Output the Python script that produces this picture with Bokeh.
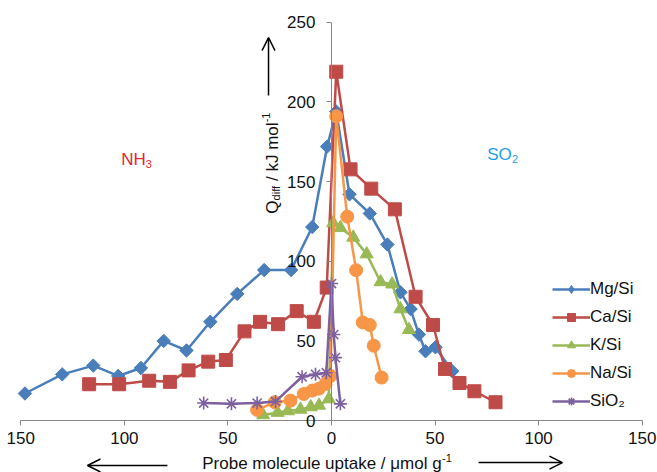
import math
from bokeh.plotting import figure
from bokeh.models import (LinearAxis, FixedTicker, Range1d, Legend, LegendItem,
                          Arrow, OpenHead, ColumnDataSource)
from bokeh.core.properties import value
from bokeh.embed import file_html
from bokeh.resources import INLINE

# ---------------- data (uptake in umol/g, Qdiff in kJ/mol) ----------------
# NH3 side is plotted to the left (negative x), SO2 side to the right.
mg_nh3_uptake = [148, 130, 115, 103, 92, 81, 70, 58.5, 45.5, 32.5, 19.5, 9.3, 2.1]
mg_nh3_q      = [17, 29, 34.5, 28, 33, 50, 44, 62, 79.5, 94.5, 94.5, 121.5, 172]
mg_so2_uptake = [2.3, 8.7, 18.5, 27, 33.3, 38.2, 42.2, 45.4, 50.2, 58.3]
mg_so2_q      = [194, 142, 130, 110.5, 80.5, 70, 54, 43.5, 46, 31]

ca_nh3_uptake = [117, 102.5, 88, 78, 69, 59.5, 51, 42, 34.5, 25.8, 16.8, 8.5, 2.3]
ca_nh3_q      = [22.8, 22.8, 25, 24.3, 31.5, 37, 38, 56, 62, 60.5, 68.7, 62, 83.5]
ca_so2_uptake = [2.3, 9.2, 19.2, 30.6, 40.6, 49, 54.8, 61.8, 69, 79.2]
ca_so2_q      = [219, 157.7, 145.6, 132.6, 77.7, 60, 32.4, 23.6, 18.4, 11.5]

k_nh3_uptake = [33, 26, 21, 15, 10, 6, 1.3]
k_nh3_q      = [3.5, 5, 6, 7, 8.5, 9.5, 13.5]
k_so2_uptake = [0.8, 4.3, 10.5, 17, 23.7, 29.3, 33.3, 37.4]
k_so2_q      = [124, 121, 115, 104.5, 87, 85.6, 70, 57]

na_nh3_uptake = [35.9, 27.4, 19.8, 13.4, 9.3, 6.1, 2.9, 0.5]
na_nh3_q      = [6.7, 11.5, 12.5, 16.7, 18.8, 20, 23, 28]
na_so2_uptake = [2.3, 7.6, 11.9, 15.1, 18.5, 20.4, 24.2]
na_so2_q      = [191, 128, 94.4, 61.6, 60, 47, 27]

si_nh3_uptake = [61.7, 48.3, 35.9, 27, 14.2, 7.7, 2.5]
si_nh3_q      = [11, 10.5, 11, 12, 27.5, 29, 30]
si_so2_uptake = [0.0, 1.1, 1.9, 4.3]
si_so2_q      = [86, 54, 39.5, 10.5]

series_names = ["Mg/Si", "Ca/Si", "K/Si", "Na/Si", "SiO\u2082"]
x_ticks = [-150, -100, -50, 0, 50, 100, 150]
x_tick_labels = ["150", "100", "50", "0", "50", "100", "150"]
y_ticks = [0, 50, 100, 150, 200, 250]

# ---------------- styles ----------------
colors = ["#4A7EBB", "#BE4B48", "#98B954", "#F79646", "#7D60A0"]
markers = ["square", "square", "triangle", "circle", "asterisk"]
sizes = [9.5, 13, 13, 13, 13]
angles = [math.pi / 4, 0, 0, 0, 0]
legend_markers = ["diamond", "square", "triangle", "circle", "asterisk"]
FONT = value("Liberation Sans")

p = figure(width=657, height=472,
           x_range=Range1d(-159.8, 157.4), y_range=Range1d(-32.6, 263.7),
           output_backend="svg", toolbar_location=None,
           x_axis_location=None, y_axis_location=None,
           min_border=0, outline_line_color=None)
p.grid.visible = False
p.background_fill_color = "white"
p.border_fill_color = "white"

yax = LinearAxis(fixed_location=0, bounds=(0, 250), ticker=FixedTicker(ticks=y_ticks),
                 major_tick_out=5, major_tick_in=0, minor_tick_out=0, minor_tick_in=0,
                 axis_line_color="#868686", major_tick_line_color="#868686",
                 major_label_text_font="Liberation Sans", major_label_text_font_size="17px",
                 major_label_text_color="#111111", major_label_standoff=11)
p.add_layout(yax, "left")

xax = LinearAxis(fixed_location=0, bounds=(-150, 150), ticker=FixedTicker(ticks=x_ticks),
                 major_label_overrides={t: l for t, l in zip(x_ticks, x_tick_labels)},
                 major_tick_out=5, major_tick_in=0, minor_tick_out=0, minor_tick_in=0,
                 axis_line_color="#868686", major_tick_line_color="#868686",
                 major_label_text_font="Liberation Sans", major_label_text_font_size="17px",
                 major_label_text_color="#111111", major_label_standoff=6)
p.add_layout(xax, "below")

all_series = [
    (mg_nh3_uptake, mg_nh3_q, mg_so2_uptake, mg_so2_q),
    (ca_nh3_uptake, ca_nh3_q, ca_so2_uptake, ca_so2_q),
    (k_nh3_uptake, k_nh3_q, k_so2_uptake, k_so2_q),
    (na_nh3_uptake, na_nh3_q, na_so2_uptake, na_so2_q),
    (si_nh3_uptake, si_nh3_q, si_so2_uptake, si_so2_q),
]

items = []
for i, (nu, nq, su, sq) in enumerate(all_series):
    xs = [-u for u in nu] + list(su)
    ys = list(nq) + list(sq)
    src = ColumnDataSource(dict(x=xs, y=ys))
    ln = p.line("x", "y", source=src, line_color=colors[i], line_width=2.5)
    if markers[i] == "asterisk":
        sc = p.scatter("x", "y", source=src, marker="asterisk", size=sizes[i],
                       line_color=colors[i], line_width=1.6)
    else:
        sc = p.scatter("x", "y", source=src, marker=markers[i], size=sizes[i],
                       angle=angles[i], fill_color=colors[i], line_color=colors[i])
    if legend_markers[i] != markers[i]:
        # marker shape used only for the legend swatch
        lg = p.scatter("x", "y", source=src, marker=legend_markers[i], size=13,
                       fill_color=colors[i], line_color=colors[i], visible=False)
        rends = [ln, lg]
    else:
        rends = [ln, sc]
    items.append(LegendItem(label=series_names[i], renderers=rends))

legend = Legend(items=items, location=(552, 61), padding=0, margin=0,
                spacing=8, glyph_width=38, glyph_height=20, label_height=20,
                label_standoff=0, border_line_color=None, background_fill_alpha=0,
                label_text_font="Liberation Sans", label_text_font_size="17px",
                label_text_color="#111111", click_policy="none")
p.add_layout(legend, "center")

# ---------------- annotations ----------------
def txt(x, y, s, size, color="#111111", angle=0.0, align="left"):
    p.text(x=[x], y=[y], text=[s], angle=angle, text_font=FONT,
           text_font_size=size, text_color=color, text_align=align,
           text_baseline="middle")

# y-axis title (rotated)
txt(-28.5, 129.9, "Q", "17px", angle=math.pi / 2)
txt(-26.6, 138.2, "diff", "11px", angle=math.pi / 2)
txt(-28.5, 150.4, "/ kJ mol", "17px", angle=math.pi / 2)
txt(-31.6, 187.2, "-1", "11px", angle=math.pi / 2)
p.add_layout(Arrow(end=OpenHead(size=13, line_width=1.5, line_color="black"),
                   x_start=-30.4, y_start=204, x_end=-30.4, y_end=240.4,
                   line_width=1.5, line_color="black"))

# x-axis title
txt(-62.4, -27.0, "Probe molecule uptake / \u03bcmol g", "17px")
txt(53.4, -23.2, "-1", "11px")
p.add_layout(Arrow(end=OpenHead(size=13, line_width=1.5, line_color="black"),
                   x_start=-79.2, y_start=-28.2, x_end=-117.8, y_end=-28.2,
                   line_width=1.5, line_color="black"))
p.add_layout(Arrow(end=OpenHead(size=13, line_width=1.5, line_color="black"),
                   x_start=71.0, y_start=-26.4, x_end=111.5, y_end=-26.4,
                   line_width=1.5, line_color="black"))

# probe labels
txt(-101.5, 163.8, "NH", "17px", color="#E3262E")
txt(-89.7, 161.3, "3", "11px", color="#E3262E")
txt(75.2, 167.0, "SO", "17px", color="#1BA1E2")
txt(87.1, 164.5, "2", "11px", color="#1BA1E2")

open("out.html", "w").write(file_html(p, INLINE))
